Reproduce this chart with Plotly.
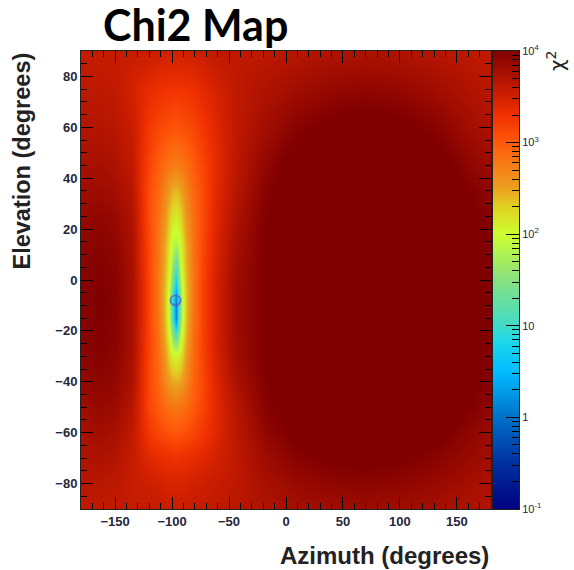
import numpy as np
import plotly.graph_objects as go

# ---------------- data (log10 of chi2) ----------------
AZIMUTH = [-180, -165, -150, -135, -120, -112, -106, -102, -99, -97, -95, -92, -88,
           -82, -74, -62, -45, -20, 10, 40, 70, 100, 130, 160, 180]
ELEVATION = [-90, -80, -70, -60, -50, -40, -30, -22, -15, -8, -2, 5, 15, 25, 35, 45, 60, 75, 90]

LOG_CHI2 = [
    # el -90
    [3.60, 3.60, 3.60, 3.57, 3.58, 3.57, 3.56, 3.55, 3.55, 3.55, 3.55, 3.55, 3.56, 3.57, 3.58, 3.60, 3.65, 3.70, 3.77, 3.80, 3.82, 3.80, 3.77, 3.72, 3.70],
    # el -80
    [3.65, 3.65, 3.63, 3.56, 3.52, 3.50, 3.47, 3.46, 3.45, 3.45, 3.45, 3.46, 3.47, 3.50, 3.52, 3.56, 3.62, 3.74, 3.85, 3.90, 3.92, 3.90, 3.85, 3.78, 3.72],
    # el -70
    [3.70, 3.72, 3.68, 3.57, 3.40, 3.36, 3.33, 3.31, 3.30, 3.30, 3.30, 3.31, 3.33, 3.36, 3.40, 3.48, 3.60, 3.80, 3.95, 4.03, 4.05, 4.02, 3.95, 3.85, 3.78],
    # el -60
    [3.75, 3.80, 3.75, 3.60, 3.25, 3.15, 3.10, 3.07, 3.05, 3.05, 3.05, 3.07, 3.10, 3.15, 3.25, 3.40, 3.62, 3.87, 4.05, 4.15, 4.20, 4.15, 4.05, 3.92, 3.82],
    # el -50
    [3.80, 3.86, 3.82, 3.66, 3.15, 3.00, 2.88, 2.82, 2.80, 2.80, 2.80, 2.82, 2.88, 3.00, 3.15, 3.38, 3.65, 3.93, 4.15, 4.30, 4.32, 4.30, 4.15, 4.00, 3.90],
    # el -40
    [3.87, 3.92, 3.88, 3.72, 3.12, 2.92, 2.68, 2.52, 2.47, 2.45, 2.47, 2.52, 2.68, 2.92, 3.12, 3.40, 3.72, 3.97, 4.20, 4.35, 4.40, 4.35, 4.20, 4.05, 3.95],
    # el -30
    [3.92, 3.97, 3.92, 3.75, 3.15, 2.88, 2.55, 2.22, 2.08, 2.05, 2.08, 2.22, 2.55, 2.88, 3.15, 3.45, 3.78, 4.00, 4.22, 4.40, 4.45, 4.40, 4.25, 4.08, 3.98],
    # el -22
    [3.94, 4.00, 3.94, 3.76, 3.16, 2.85, 2.45, 1.95, 1.50, 1.20, 1.50, 1.95, 2.45, 2.85, 3.16, 3.47, 3.80, 4.00, 4.22, 4.40, 4.45, 4.40, 4.25, 4.08, 3.98],
    # el -15
    [3.95, 4.00, 3.95, 3.76, 3.15, 2.82, 2.38, 1.75, 0.90, 0.10, 0.90, 1.75, 2.38, 2.82, 3.15, 3.47, 3.80, 4.00, 4.22, 4.40, 4.45, 4.40, 4.25, 4.08, 3.98],
    # el -8
    [3.95, 4.00, 3.96, 3.76, 3.15, 2.80, 2.35, 1.70, 0.80, 0.10, 0.80, 1.70, 2.35, 2.80, 3.15, 3.47, 3.80, 4.00, 4.22, 4.40, 4.45, 4.40, 4.25, 4.08, 3.98],
    # el -2
    [3.95, 4.00, 3.95, 3.76, 3.15, 2.80, 2.38, 1.85, 1.20, 0.65, 1.20, 1.85, 2.38, 2.80, 3.15, 3.47, 3.80, 4.00, 4.22, 4.40, 4.45, 4.40, 4.25, 4.08, 3.98],
    # el 5
    [3.93, 3.98, 3.93, 3.75, 3.13, 2.80, 2.42, 2.00, 1.50, 1.15, 1.50, 2.00, 2.42, 2.80, 3.13, 3.45, 3.78, 4.00, 4.22, 4.40, 4.45, 4.40, 4.25, 4.08, 3.98],
    # el 15
    [3.90, 3.95, 3.90, 3.73, 3.12, 2.82, 2.48, 2.12, 1.92, 1.85, 1.92, 2.12, 2.48, 2.82, 3.12, 3.42, 3.75, 4.00, 4.22, 4.40, 4.45, 4.40, 4.25, 4.08, 3.98],
    # el 25
    [3.85, 3.90, 3.85, 3.70, 3.10, 2.85, 2.58, 2.30, 2.18, 2.15, 2.18, 2.30, 2.58, 2.85, 3.10, 3.40, 3.70, 3.97, 4.20, 4.35, 4.40, 4.35, 4.20, 4.05, 3.95],
    # el 35
    [3.80, 3.83, 3.78, 3.65, 3.10, 2.90, 2.68, 2.50, 2.42, 2.40, 2.42, 2.50, 2.68, 2.90, 3.10, 3.37, 3.65, 3.93, 4.15, 4.30, 4.32, 4.30, 4.15, 4.00, 3.90],
    # el 45
    [3.75, 3.76, 3.72, 3.60, 3.15, 2.98, 2.85, 2.78, 2.76, 2.75, 2.76, 2.78, 2.85, 2.98, 3.15, 3.35, 3.62, 3.88, 4.10, 4.20, 4.25, 4.20, 4.10, 3.92, 3.82],
    # el 60
    [3.68, 3.68, 3.64, 3.55, 3.25, 3.15, 3.10, 3.07, 3.05, 3.05, 3.05, 3.07, 3.10, 3.15, 3.25, 3.40, 3.60, 3.78, 3.95, 4.05, 4.08, 4.05, 3.95, 3.80, 3.72],
    # el 75
    [3.62, 3.62, 3.60, 3.48, 3.36, 3.32, 3.30, 3.29, 3.28, 3.28, 3.28, 3.29, 3.30, 3.32, 3.38, 3.48, 3.60, 3.70, 3.80, 3.87, 3.90, 3.87, 3.80, 3.70, 3.64],
    # el 90
    [3.58, 3.57, 3.57, 3.55, 3.55, 3.53, 3.52, 3.50, 3.50, 3.50, 3.50, 3.50, 3.52, 3.53, 3.55, 3.60, 3.62, 3.62, 3.66, 3.70, 3.72, 3.70, 3.66, 3.62, 3.60],
]

BEST_FIT_AZ = [-97]
BEST_FIT_EL = [-8]

X_TICKS = [-150, -100, -50, 0, 50, 100, 150]
Y_TICKS = [-80, -60, -40, -20, 0, 20, 40, 60, 80]
Z_TICK_EXP = [-1, 0, 1, 2, 3, 4]
Z_TICK_TEXT = ["10<sup>-1</sup>", "1", "10", "10<sup>2</sup>", "10<sup>3</sup>", "10<sup>4</sup>"]

ZMIN, ZMAX = -1, 4

# ROOT-like rainbow palette on log10 scale
COLORSCALE = [
    [0.00, "#000080"],
    [0.10, "#0030a0"],
    [0.20, "#0070c8"],
    [0.30, "#00bcff"],
    [0.37, "#20d8e8"],
    [0.40, "#40dcc8"],
    [0.50, "#88e080"],
    [0.60, "#ccff30"],
    [0.66, "#e0d020"],
    [0.70, "#eca020"],
    [0.80, "#ff5a0a"],
    [0.86, "#f03000"],
    [0.90, "#d02000"],
    [1.00, "#800000"],
]

# ---------------- layout geometry ----------------
W, H = 574, 570
ML, MR, MT, MB = 81, 55, 51, 61
PW = W - ML - MR
PH = H - MT - MB
main_right = (491 - ML) / PW
cb_left = (492.5 - ML) / PW

fig = go.Figure()

fig.add_trace(go.Heatmap(
    x=AZIMUTH, y=ELEVATION, z=LOG_CHI2,
    zmin=ZMIN, zmax=ZMAX, colorscale=COLORSCALE, zsmooth="best",
    showscale=False, hoverinfo="skip",
    xaxis="x", yaxis="y",
))

fig.add_trace(go.Scatter(
    x=BEST_FIT_AZ, y=BEST_FIT_EL, mode="markers",
    marker=dict(symbol="circle-open", size=10, color="rgba(90,90,210,0.85)",
                line=dict(width=1.8)),
    hoverinfo="skip", showlegend=False, xaxis="x", yaxis="y",
))

# colour bar drawn as a narrow heatmap on its own axis (log10 units)
cb_levels = np.linspace(ZMIN, ZMAX, 301)
fig.add_trace(go.Heatmap(
    x=[0], y=cb_levels, z=[[v] for v in cb_levels],
    zmin=ZMIN, zmax=ZMAX, colorscale=COLORSCALE, showscale=False,
    hoverinfo="skip", xaxis="x2", yaxis="y2",
))

minor_z = [np.log10(k) + e for e in range(ZMIN, ZMAX) for k in range(2, 10)]

tick_font = dict(family="Liberation Sans", size=13, color="#26263a", weight="bold")

fig.update_layout(
    width=W, height=H,
    margin=dict(l=ML, r=MR, t=MT, b=MB),
    paper_bgcolor="white", plot_bgcolor="white",
    showlegend=False,
    xaxis=dict(
        domain=[0, main_right], range=[-180, 180], anchor="y",
        tickmode="array", tickvals=X_TICKS, ticks="inside", ticklen=12,
        tickcolor="black", tickwidth=1, mirror="allticks",
        showline=True, linecolor="#222", linewidth=1, showgrid=False, zeroline=False,
        minor=dict(tickmode="linear", tick0=0, dtick=10, ticks="inside", ticklen=6,
                   tickcolor="black", showgrid=False),
        tickfont=tick_font,
    ),
    yaxis=dict(
        domain=[0, 1], range=[-90, 90], anchor="x",
        tickmode="array", tickvals=Y_TICKS, ticks="inside", ticklen=12,
        tickcolor="black", tickwidth=1, mirror="allticks",
        showline=True, linecolor="#222", linewidth=1, showgrid=False, zeroline=False,
        minor=dict(tickmode="linear", tick0=0, dtick=5, ticks="inside", ticklen=6,
                   tickcolor="black", showgrid=False),
        tickfont=tick_font,
    ),
    xaxis2=dict(
        domain=[cb_left, 1], range=[-0.5, 0.5], anchor="y2",
        showticklabels=False, ticks="", showgrid=False, zeroline=False,
        showline=True, linecolor="#222", linewidth=1, mirror=True,
    ),
    yaxis2=dict(
        domain=[0, 1], range=[ZMIN, ZMAX], anchor="x2", side="right",
        tickmode="array", tickvals=Z_TICK_EXP, ticktext=Z_TICK_TEXT,
        ticks="inside", ticklen=13, tickcolor="black",
        showline=True, linecolor="#222", linewidth=1, mirror=True,
        showgrid=False, zeroline=False,
        minor=dict(tickmode="array", tickvals=minor_z, ticks="inside", ticklen=7,
                   tickcolor="black", showgrid=False),
        tickfont=dict(family="Liberation Sans", size=11, color="#26263a"),
    ),
    annotations=[
        dict(text="<b>Chi2 Map</b>", xref="paper", yref="paper",
             x=(195 - ML) / PW, y=1 + (MT - 25) / PH, xanchor="center", yanchor="middle",
             showarrow=False, font=dict(family="Lato", size=43, color="black")),
        dict(text="<b>Elevation (degrees)</b>", xref="paper", yref="paper",
             x=(21 - ML) / PW, y=1.0, xanchor="center", yanchor="top", textangle=-90,
             showarrow=False, font=dict(family="Liberation Sans", size=23.5, color="#222")),
        dict(text="<b>Azimuth (degrees)</b>", xref="paper", yref="paper",
             x=main_right, y=-(555 - (H - MB)) / PH, xanchor="right", yanchor="middle",
             showarrow=False, font=dict(family="Liberation Sans", size=24, color="#222")),
        dict(text="χ<sup>2</sup>", xref="paper", yref="paper",
             x=(556 - ML) / PW, y=1.0 + 2 / PH, xanchor="center", yanchor="top", textangle=-90,
             showarrow=False, font=dict(family="DejaVu Sans", size=20, color="#222")),
    ],
)

fig.write_html("out.html")
